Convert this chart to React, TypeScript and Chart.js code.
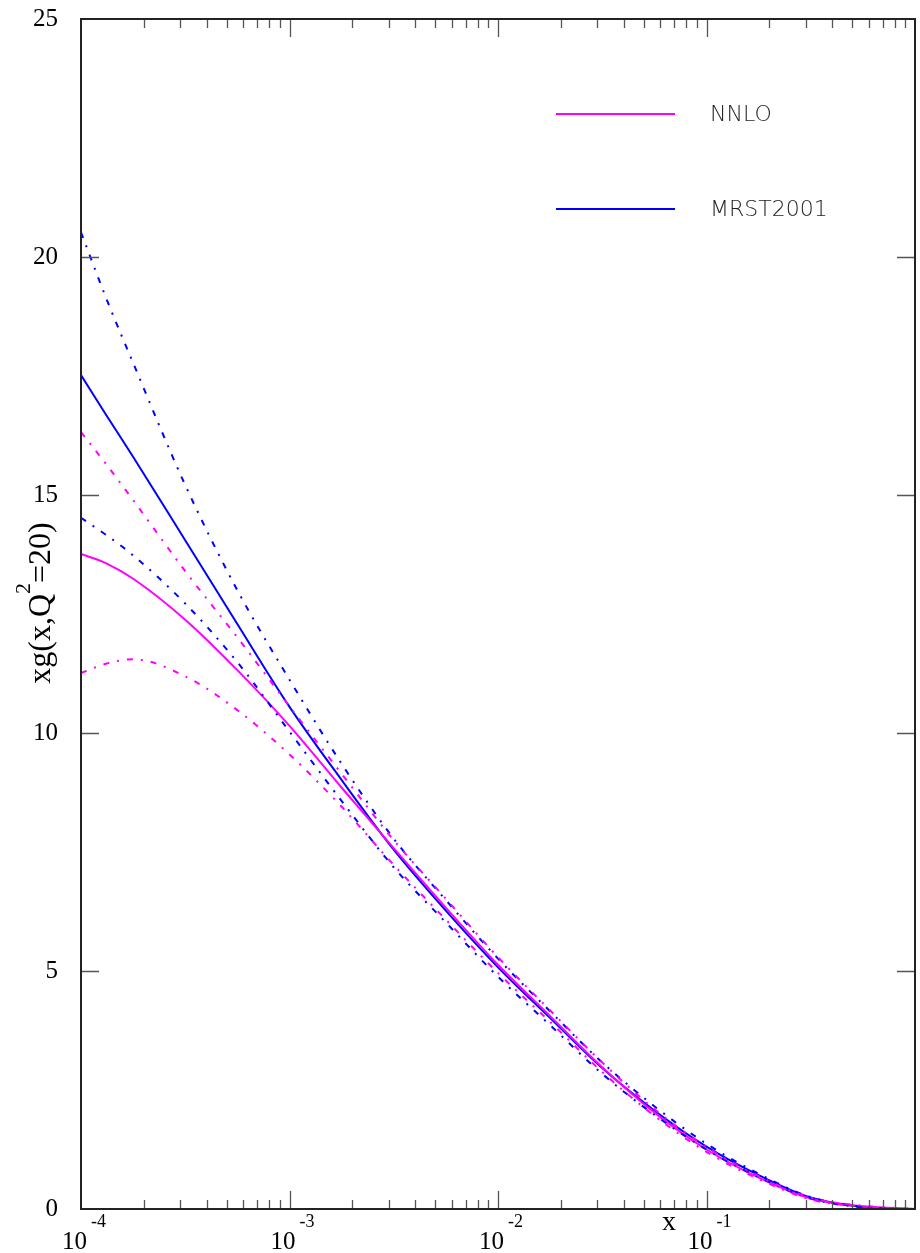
import React, { useEffect, useRef } from "react";
import { Chart, registerables } from "chart.js";

Chart.register(...registerables);

// x grid (momentum fraction), log spaced
const xValues = [
  0.0001, 0.000133, 0.000178, 0.000316, 0.000562, 0.001, 0.00178, 0.00316, 0.00562,
  0.01, 0.0178, 0.0316, 0.0562, 0.1, 0.178, 0.316, 0.562, 1,
];

// MRST2001 gluon, central value and error band edges
const mrstCentral = [17.52, 16.66, 15.8, 14.05, 12.29, 10.55, 9.01, 7.55, 6.27, 5.08, 4.01, 2.96, 2.07, 1.31, 0.71, 0.24, 0.04, 0];
const mrstUpper = [20.52, 19.1, 17.77, 15.21, 13.0, 11.12, 9.35, 7.78, 6.49, 5.26, 4.15, 3.08, 2.16, 1.37, 0.74, 0.25, 0.045, 0];
const mrstLower = [14.52, 14.15, 13.73, 12.72, 11.49, 10.03, 8.57, 7.18, 6.02, 4.88, 3.86, 2.84, 1.98, 1.25, 0.67, 0.22, 0.035, 0];

// NNLO gluon, central value and error band edges
const nnloCentral = [13.76, 13.56, 13.24, 12.38, 11.32, 10.15, 8.85, 7.58, 6.33, 5.13, 4.05, 2.98, 2.03, 1.25, 0.66, 0.22, 0.06, 0];
const nnloUpper = [16.32, 15.63, 14.89, 13.4, 12.01, 10.56, 9.14, 7.75, 6.52, 5.29, 4.17, 3.08, 2.1, 1.3, 0.69, 0.235, 0.07, 0];
const nnloLower = [11.26, 11.46, 11.55, 11.19, 10.48, 9.55, 8.45, 7.23, 6.08, 4.96, 3.93, 2.88, 1.96, 1.2, 0.63, 0.2, 0.05, 0];

// axis ticks and labels
const yTickValues = [0, 5, 10, 15, 20, 25];
const xDecadeExponents = [-4, -3, -2, -1];
const xDecadeLabels = ["-4", "-3", "-2", "-1"];
const minorMultipliers = [2, 3, 4, 5, 6, 7, 8, 9];

const legendItems = [
  { label: "NNLO", color: "#ff00ff" },
  { label: "MRST2001", color: "#0000ff" },
];

const MAGENTA = "#ff00ff";
const BLUE = "#0000ff";
const DASH_DOT = [6, 8, 2, 8];

const toPoints = (ys: number[]) => xValues.map((x, i) => ({ x, y: ys[i] }));

const SERIF = '"Liberation Serif", "Times New Roman", serif';
const SANS = '"DejaVu Sans", "Liberation Sans", sans-serif';

const framePlugin = {
  id: "pawFrame",
  afterDatasetsDraw(chart: any) {
    const { ctx, chartArea: a, scales } = chart;
    const xs = scales.x;
    const ys = scales.y;
    ctx.save();

    // inward ticks on all four sides
    ctx.strokeStyle = "#555";
    ctx.lineWidth = 1.3;
    const vtick = (px: number, len: number) => {
      const p = Math.round(px) + 0.5;
      ctx.beginPath();
      ctx.moveTo(p, a.bottom);
      ctx.lineTo(p, a.bottom - len);
      ctx.moveTo(p, a.top);
      ctx.lineTo(p, a.top + len);
      ctx.stroke();
    };
    xDecadeExponents.forEach((e) => {
      minorMultipliers.forEach((m) => vtick(xs.getPixelForValue(m * Math.pow(10, e)), 9));
      if (e > -4) vtick(xs.getPixelForValue(Math.pow(10, e)), 18);
    });
    yTickValues.forEach((v) => {
      if (v === 0 || v === 25) return;
      const p = Math.round(ys.getPixelForValue(v)) + 0.5;
      ctx.beginPath();
      ctx.moveTo(a.left, p);
      ctx.lineTo(a.left + 18, p);
      ctx.moveTo(a.right, p);
      ctx.lineTo(a.right - 18, p);
      ctx.stroke();
    });

    // frame
    ctx.strokeStyle = "#222";
    ctx.lineWidth = 2;
    ctx.strokeRect(a.left, a.top, a.right - a.left, a.bottom - a.top);

    // y tick labels
    ctx.fillStyle = "#000";
    ctx.font = `25px ${SERIF}`;
    ctx.textAlign = "right";
    ctx.textBaseline = "middle";
    yTickValues.forEach((v) => {
      ctx.fillText(String(v), 58, ys.getPixelForValue(v));
    });

    // x decade labels 10^n
    ctx.textAlign = "left";
    ctx.textBaseline = "alphabetic";
    xDecadeExponents.forEach((e, i) => {
      const px = xs.getPixelForValue(Math.pow(10, e));
      const x0 = px - 19;
      ctx.font = `25px ${SERIF}`;
      ctx.fillText("10", x0, 1249);
      ctx.font = `18px ${SERIF}`;
      ctx.fillText(xDecadeLabels[i], x0 + 29, 1227);
    });

    // x axis title
    ctx.font = `28px ${SERIF}`;
    ctx.fillText("x", 662, 1230);

    // y axis title, rotated
    ctx.save();
    ctx.translate(50, 603);
    ctx.rotate(-Math.PI / 2);
    const big = `32px ${SERIF}`;
    const small = `22px ${SERIF}`;
    const p1 = "xg(x,Q";
    const p2 = "2";
    const p3 = "=20)";
    ctx.font = big;
    const w1 = ctx.measureText(p1).width;
    const w3 = ctx.measureText(p3).width;
    ctx.font = small;
    const w2 = ctx.measureText(p2).width;
    const total = w1 + w2 + w3;
    let cx = -total / 2;
    ctx.font = big;
    ctx.fillText(p1, cx, 0);
    cx += w1;
    ctx.font = small;
    ctx.fillText(p2, cx, -20);
    cx += w2;
    ctx.font = big;
    ctx.fillText(p3, cx, 0);
    ctx.restore();

    // legend
    const legendY = [114, 209];
    legendItems.forEach((item, i) => {
      ctx.strokeStyle = item.color;
      ctx.lineWidth = 2;
      ctx.beginPath();
      ctx.moveTo(556, legendY[i]);
      ctx.lineTo(675, legendY[i]);
      ctx.stroke();
      ctx.fillStyle = "#222";
      ctx.font = `200 22px ${SANS}`;
      ctx.textBaseline = "middle";
      ctx.fillText(item.label, 710, legendY[i] + 1);
    });

    ctx.restore();
  },
};

export default function App() {
  const canvasRef = useRef<HTMLCanvasElement | null>(null);

  useEffect(() => {
    if (!canvasRef.current) return;
    const line = (data: number[], color: string, dashed: boolean) => ({
      data: toPoints(data),
      borderColor: color,
      borderWidth: 2,
      borderDash: dashed ? DASH_DOT : [],
      pointRadius: 0,
      fill: false,
      cubicInterpolationMode: "monotone" as const,
    });
    const chart = new Chart(canvasRef.current, {
      type: "line",
      data: {
        datasets: [
          { label: "NNLO upper", ...line(nnloUpper, MAGENTA, true) },
          { label: "NNLO lower", ...line(nnloLower, MAGENTA, true) },
          { label: "MRST2001 upper", ...line(mrstUpper, BLUE, true) },
          { label: "MRST2001 lower", ...line(mrstLower, BLUE, true) },
          { label: "NNLO", ...line(nnloCentral, MAGENTA, false) },
          { label: "MRST2001", ...line(mrstCentral, BLUE, false) },
        ],
      },
      options: {
        animation: false,
        responsive: false,
        devicePixelRatio: 1,
        layout: { padding: { left: 81, top: 19, right: 5, bottom: 44 } },
        scales: {
          x: { type: "logarithmic", min: 0.0001, max: 1, display: false },
          y: { type: "linear", min: 0, max: 25, display: false },
        },
        plugins: {
          legend: { display: false },
          tooltip: { enabled: false },
        },
      },
      plugins: [framePlugin],
    });
    return () => chart.destroy();
  }, []);

  return (
    <div style={{ position: "fixed", left: 0, top: 0, width: 920, height: 1253, background: "#fff" }}>
      <canvas ref={canvasRef} width={920} height={1253} style={{ display: "block" }} />
    </div>
  );
}
